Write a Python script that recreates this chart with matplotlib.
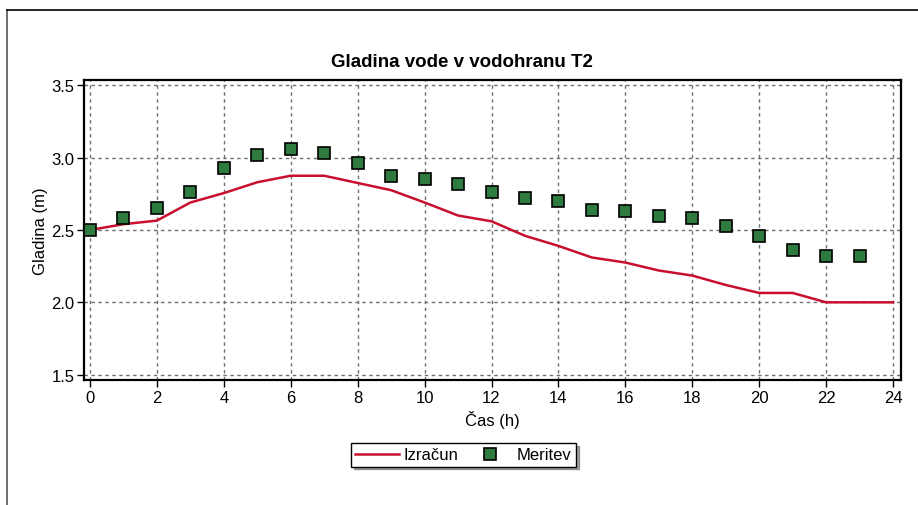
import numpy as np
import matplotlib.pyplot as plt
from matplotlib.lines import Line2D

plt.rcParams['font.family'] = ['Liberation Sans', 'DejaVu Sans']

# ure
hours = list(range(0, 25))
meas_hours = list(range(0, 24))

# Izračun (izračunana gladina)
izracun = [2.50, 2.54, 2.565, 2.69, 2.755, 2.83, 2.875, 2.875, 2.825, 2.775,
           2.69, 2.60, 2.56, 2.46, 2.39, 2.31, 2.275, 2.22, 2.185, 2.12,
           2.065, 2.065, 2.00, 2.00, 2.00]

# Meritev (izmerjena gladina)
meritev = [2.50, 2.58, 2.65, 2.76, 2.93, 3.02, 3.06, 3.03, 2.96, 2.87,
           2.85, 2.82, 2.76, 2.72, 2.70, 2.64, 2.63, 2.60, 2.58, 2.53,
           2.46, 2.36, 2.32, 2.32]

xticks = list(range(0, 25, 2))
yticks = [1.5, 2.0, 2.5, 3.0, 3.5]

fig = plt.figure(figsize=(9.18, 5.06), dpi=100)
ax = fig.add_axes([0.0915, 0.247, 0.890, 0.593])

ax.plot(hours, izracun, color='#c8102e', lw=1.8, label='Izračun', zorder=3)
ax.plot(meas_hours, meritev, ls='none', marker='s', ms=8.5,
        mfc='#2f7a3e', mec='black', mew=1.2, label='Meritev', zorder=4)

ax.set_xlim(-0.18, 24.24)
ax.set_ylim(1.463, 3.537)
ax.set_xticks(xticks)
ax.set_yticks(yticks)
ax.set_yticklabels([f'{v:.1f}' for v in yticks])
ax.tick_params(direction='out', length=5, width=1, labelsize=12, colors='black', pad=2)
ax.grid(True, color='#707070', ls=(0, (2.5, 2.5)), lw=1)
for s in ax.spines.values():
    s.set_linewidth(1.6)

ax.set_xlabel('Čas (h)', fontsize=12, labelpad=4)
ax.set_ylabel('Gladina (m)', fontsize=12, labelpad=2)

fig.text(0.503, 0.876, 'Gladina vode v vodohranu T2', ha='center', va='center',
         fontsize=13.5, fontweight='bold')

leg = fig.legend(loc='center', bbox_to_anchor=(0.505, 0.099), ncol=2,
                 fancybox=False, shadow=True, edgecolor='black',
                 fontsize=12, handlelength=2.6, columnspacing=0.6,
                 borderpad=0.25, handletextpad=0.3)
leg.get_frame().set_linewidth(1.0)

# okvir slike
fig.add_artist(Line2D([7 / 918, 7 / 918], [0, 1 - 11 / 506], color='#555555', lw=1.2))
fig.add_artist(Line2D([7 / 918, 1], [1 - 11 / 506, 1 - 11 / 506], color='black', lw=1.2))

fig.savefig('out.png', dpi=100)
